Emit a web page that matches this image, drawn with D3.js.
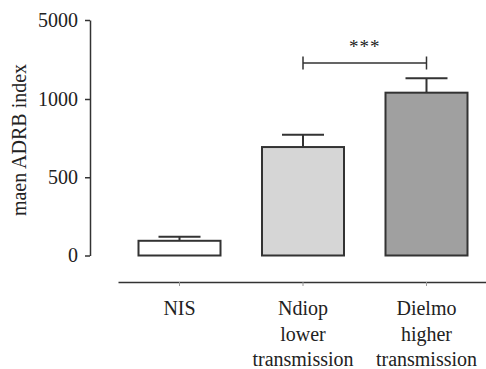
<!DOCTYPE html>
<html>
<head>
<meta charset="utf-8">
<script src="https://cdn.jsdelivr.net/npm/d3@7"></script>
<style>
  html, body { margin: 0; padding: 0; background: #fff; }
  svg text { font-family: "Liberation Serif", "DejaVu Serif", serif; fill: #222; }
</style>
</head>
<body>
<svg id="chart" width="486" height="369"></svg>
<script>
// ---- data ----
const groups = ["NIS", "Ndiop", "Dielmo"];
const groupLabels = [["NIS"], ["Ndiop", "lower", "transmission"], ["Dielmo", "higher", "transmission"]];
const means = [94, 693, 1320];
const errTops = [120, 772, 2050];
const fills = ["#ffffff", "#d6d6d6", "#a0a0a0"];
const yTicks = [0, 500, 1000, 5000];
const sigPair = ["Ndiop", "Dielmo"];
const sigText = "***";

const svg = d3.select("#chart");

// broken axis: 0–1000 linear, then 1000–5000 squeezed into one step
const y = d3.scaleLinear()
  .domain([0, 1000, 5000])
  .range([255.5, 99, 20]);

const x = d3.scaleBand()
  .domain(groups)
  .range([118, 488])
  .paddingInner(0.336)
  .paddingOuter(0.166);

const cx = d => x(d) + x.bandwidth() / 2;

/* ─── y axis ─── */
const yAxis = svg.append("g")
  .attr("transform", "translate(90,0)")
  .call(d3.axisLeft(y).tickValues(yTicks).tickFormat(d3.format("d"))
    .tickSize(5).tickSizeOuter(0).tickPadding(7));
yAxis.attr("font-size", 20).attr("font-family", null);
yAxis.select(".domain").attr("stroke", "#333").attr("stroke-width", 1.5);
yAxis.selectAll(".tick line").attr("stroke", "#333").attr("stroke-width", 1.5);
yAxis.selectAll(".tick text").attr("fill", "#222");

svg.append("text")
  .attr("transform", "translate(26,140) rotate(-90)")
  .attr("text-anchor", "middle")
  .attr("font-size", 20)
  .text("maen ADRB index");

/* ─── x axis ─── */
const xAxis = svg.append("g")
  .attr("transform", "translate(0,282)")
  .call(d3.axisBottom(x).tickSize(4).tickSizeOuter(0).tickFormat(""));
xAxis.select(".domain").attr("stroke", "#333").attr("stroke-width", 1.5);
xAxis.selectAll(".tick line").attr("stroke", "#999").attr("stroke-width", 1);

groups.forEach((g, i) => {
  const t = svg.append("text")
    .attr("text-anchor", "middle")
    .attr("font-size", 20)
    .attr("x", cx(g))
    .attr("y", 315);
  groupLabels[i].forEach((line, j) => {
    t.append("tspan").attr("x", cx(g)).attr("y", 315 + j * 25.5).text(line);
  });
});

/* ─── bars ─── */
const data = groups.map((g, i) => ({ g, mean: means[i], top: errTops[i], fill: fills[i] }));

svg.selectAll(".err")
  .data(data)
  .enter()
  .append("path")
  .attr("class", "err")
  .attr("fill", "none")
  .attr("stroke", "#333")
  .attr("stroke-width", 2)
  .attr("d", d => {
    const c = cx(d.g);
    return `M${c},${y(d.mean)}V${y(d.top)}M${c - 21},${y(d.top)}H${c + 21}`;
  });

svg.selectAll(".bar")
  .data(data)
  .enter()
  .append("rect")
  .attr("class", "bar")
  .attr("x", d => x(d.g))
  .attr("y", d => y(d.mean))
  .attr("width", x.bandwidth())
  .attr("height", d => y(0) - y(d.mean))
  .attr("fill", d => d.fill)
  .attr("stroke", "#333")
  .attr("stroke-width", 2);

/* ─── significance bracket ─── */
const sx0 = cx(sigPair[0]), sx1 = cx(sigPair[1]);
svg.append("path")
  .attr("fill", "none")
  .attr("stroke", "#333")
  .attr("stroke-width", 1.5)
  .attr("d", `M${sx0},56.5V69.5M${sx0},63H${sx1}M${sx1},56.5V69.5`);

svg.append("text")
  .attr("x", (sx0 + sx1) / 2)
  .attr("y", 53)
  .attr("text-anchor", "middle")
  .attr("font-size", 19)
  .attr("letter-spacing", 1)
  .attr("fill", "#777")
  .text(sigText);
</script>
</body>
</html>
